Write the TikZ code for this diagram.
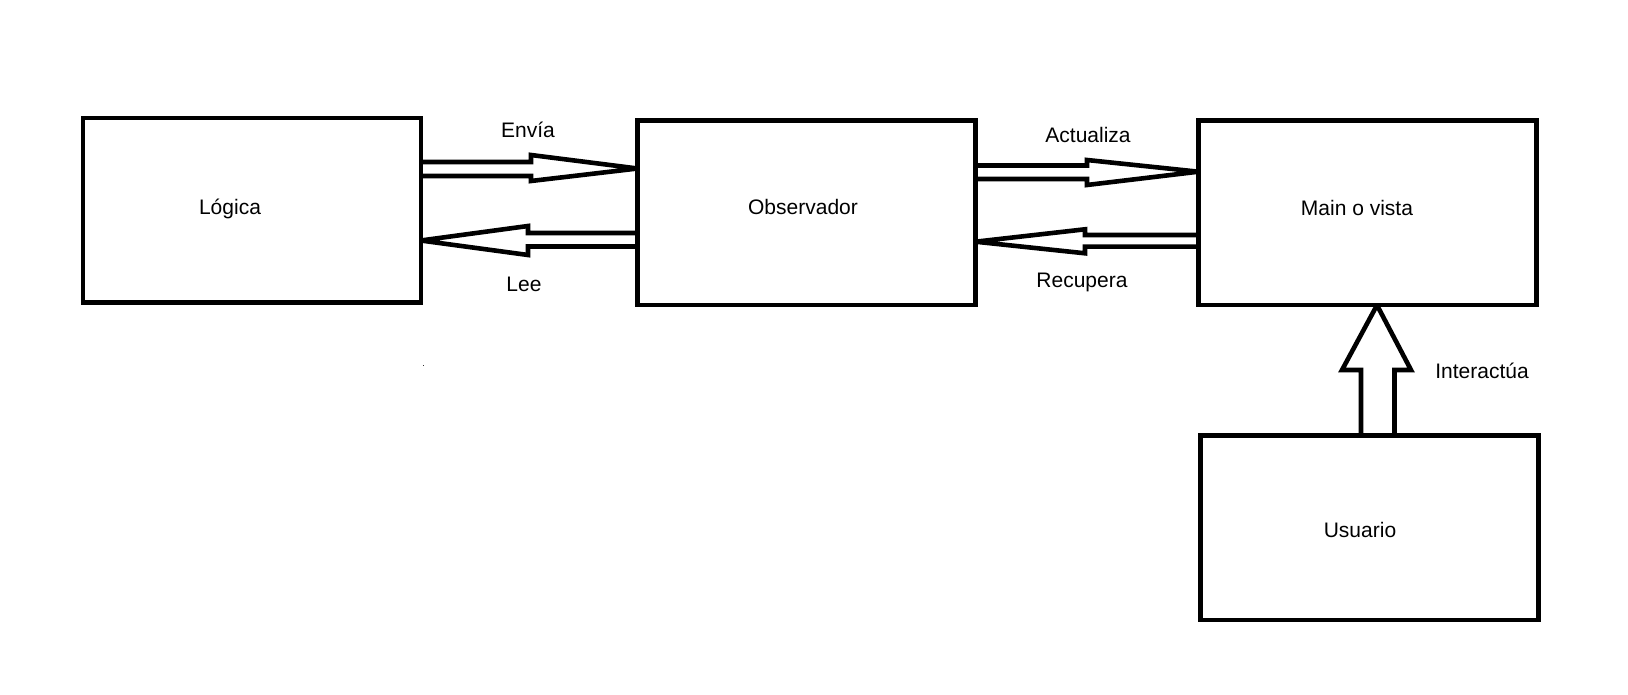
\documentclass[tikz,border=0pt]{standalone}
\usepackage{fontspec}
\setmainfont{Liberation Sans}
\begin{document}
\begin{tikzpicture}[x=0.5pt,y=-0.5pt,
  box/.style={draw, line width=2.25pt, outer sep=0pt, inner sep=0pt,
    minimum width=169pt, minimum height=92.25pt},
  lbl/.style={anchor=base, inner sep=0pt, font=\fontsize{10.5pt}{12pt}\selectfont},
  blockarrow/.style={draw, line width=2.3pt, line join=miter, miter limit=2}]
\fill[white] (0,0) rectangle (1628,695);
\useasboundingbox (0,0) rectangle (1628,695);
% boxes
\node[box] (L) at (251.75,210.5) {};
\node[box] (O) at (806.5,212.75) {};
\node[box] (M) at (1367.35,212.9) {};
\node[box] (U) at (1369.5,527.85) {};
% box texts
\node[lbl] (tL) at (230,214.5) {Lógica};
\node[lbl] (tO) at (803,215) {Observador};
\node[lbl] (tM) at (1357,216) {Main o vista};
\node[lbl] (tU) at (1360,537) {Usuario};
% block arrows
\draw[blockarrow] (L.east |- 0,162) -- (531,162) -- (531,155) -- (O.west |- 0,168.5)
  -- (531,181) -- (531,176) -- (L.east |- 0,176);
\draw[blockarrow] (O.west |- 0,233) -- (528,233) -- (528,226) -- (L.east |- 0,240.5)
  -- (528,255) -- (528,246.5) -- (O.west |- 0,246.5);
\draw[blockarrow] (O.east |- 0,165.5) -- (1087,165.5) -- (1087,160) -- (M.west |- 0,171.7)
  -- (1087,185) -- (1087,179) -- (O.east |- 0,179);
\draw[blockarrow] (M.west |- 0,235) -- (1085,235) -- (1085,229.3) -- (O.east |- 0,241.7)
  -- (1085,253.3) -- (1085,246.7) -- (M.west |- 0,246.7);
\draw[blockarrow] (1361,0 |- U.north) -- (1361,370) -- (1342,370) -- (1377,0 |- M.south)
  -- (1411,370) -- (1394.5,370) -- (1394.5,0 |- U.north);
% arrow labels
\node[lbl] (tEnv) at (528,138) {Envía};
\node[lbl] (tLee) at (524,291.5) {Lee};
\node[lbl] (tAct) at (1088,143) {Actualiza};
\node[lbl] (tRec) at (1082,288) {Recupera};
\node[lbl] (tInt) at (1482,379) {Interactúa};
% stray dot
\fill[black!80] (423,365) rectangle (424.2,366.2);
\end{tikzpicture}
\end{document}
